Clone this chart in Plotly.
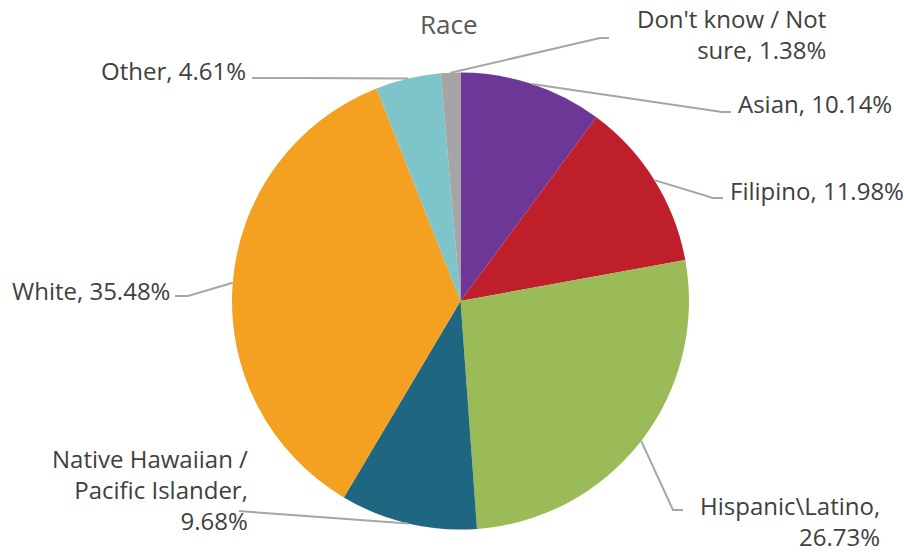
import math
import plotly.graph_objects as go

# Survey responses by race (percent of respondents)
categories = [
    "Asian",
    "Filipino",
    "Hispanic\\Latino",
    "Native Hawaiian / Pacific Islander",
    "White",
    "Other",
    "Don't know / Not sure",
]
percentages = [10.14, 11.98, 26.73, 9.68, 35.48, 4.61, 1.38]
label_lines = [
    ["Asian, {v:.2f}%"],
    ["Filipino, {v:.2f}%"],
    ["Hispanic\\Latino,", "{v:.2f}%"],
    ["Native Hawaiian /", "Pacific Islander,", "{v:.2f}%"],
    ["White, {v:.2f}%"],
    ["Other, {v:.2f}%"],
    ["Don't know / Not", "sure, {v:.2f}%"],
]
colors = ["#6C3796", "#BF1F2A", "#9BBB59", "#1F6680", "#F4A121", "#7DC4CB", "#A5A5A5"]

W, H = 904, 552
CX, CY, R = 460.5, 301.0, 228.5

# Label placement: (text anchor x, text anchor y, xanchor, elbow point, line end point)
label_layout = [
    (736, 104, "left", (722, 112), (731, 112)),
    (728, 190, "left", (713, 198), (723, 198)),
    (882, 521, "right", (673, 510), (683, 510)),
    (250, 490, "right", (252, 512), (239, 511)),
    (172, 290, "right", (188, 296), (175, 296)),
    (248, 70, "right", (300, 78), (252, 78)),
    (828, 34, "right", (600, 38), (609, 38)),
]


def px(x, y):
    return x / W, 1 - y / H


fig = go.Figure(
    go.Pie(
        labels=categories,
        values=percentages,
        marker=dict(colors=colors, line=dict(width=0)),
        sort=False,
        direction="clockwise",
        rotation=0,
        textinfo="none",
        hoverinfo="skip",
        showlegend=False,
        domain=dict(
            x=[(CX - R) / W, (CX + R) / W],
            y=[1 - (CY + R) / H, 1 - (CY - R) / H],
        ),
    )
)

total = sum(percentages)
shapes = []
annotations = []
cum = 0.0
for val, lines, (tx, ty, xa, elbow, end) in zip(percentages, label_lines, label_layout):
    mid = (cum + val / 2) / total * 2 * math.pi
    cum += val
    sx = CX + R * math.sin(mid)
    sy = CY - R * math.cos(mid)
    pts = [px(sx, sy), px(*elbow), px(*end)]
    path = "M {} {} L {} {} L {} {}".format(*[c for p in pts for c in p])
    shapes.append(dict(type="path", xref="paper", yref="paper", path=path,
                       line=dict(color="#A6A6A6", width=2)))
    ax, ay = px(tx, ty)
    annotations.append(dict(
        text="<br>".join(l.format(v=val) for l in lines),
        x=ax, y=ay, xref="paper", yref="paper",
        xanchor=xa, yanchor="middle", align=xa,
        showarrow=False,
        font=dict(family="Open Sans", size=24, color="#404040"),
    ))

tx, ty = px(449, 24)
annotations.append(dict(
    text="Race", x=tx, y=ty, xref="paper", yref="paper",
    xanchor="center", yanchor="middle", showarrow=False,
    font=dict(family="Open Sans", size=26, color="#595959"),
))

fig.update_layout(
    width=W, height=H,
    margin=dict(l=0, r=0, t=0, b=0),
    paper_bgcolor="white",
    plot_bgcolor="white",
    shapes=shapes,
    annotations=annotations,
)

fig.write_html("out.html")
